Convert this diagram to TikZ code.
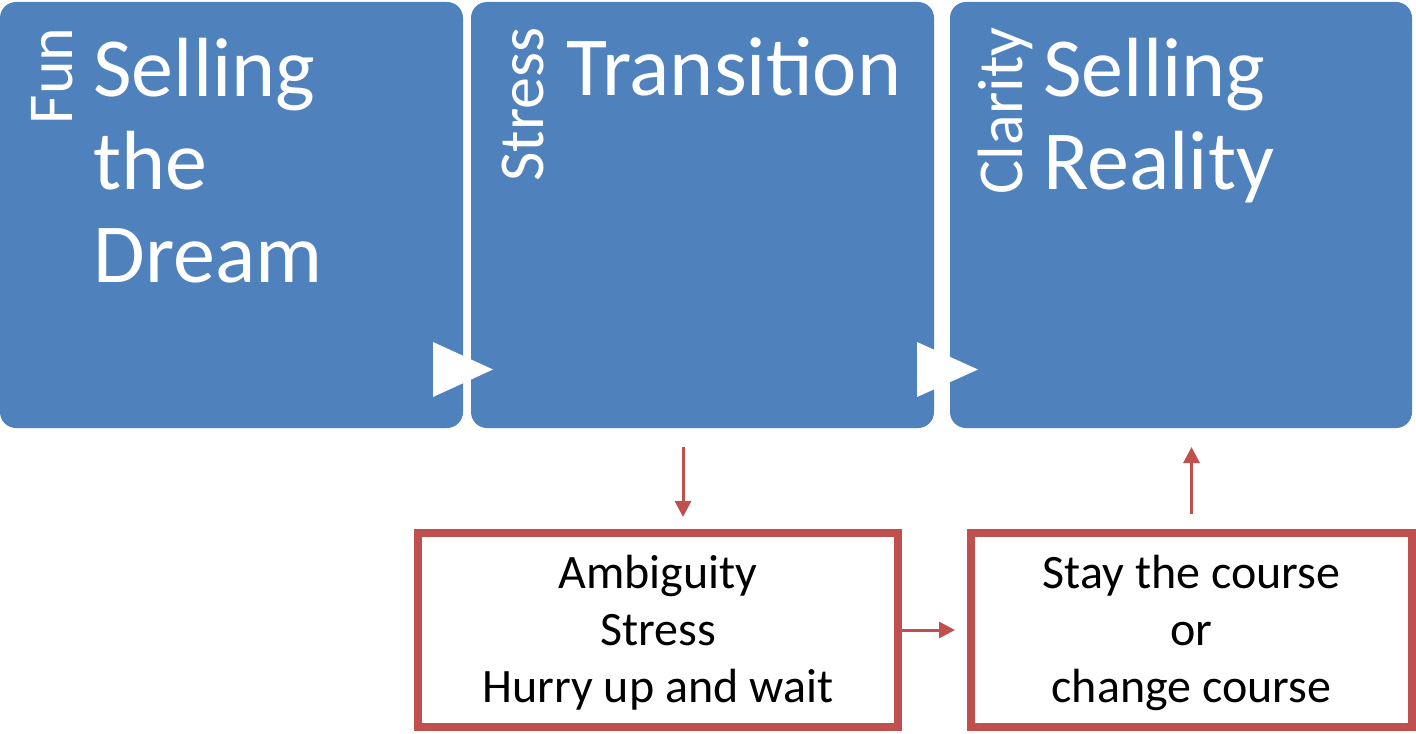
\documentclass[tikz,border=0pt]{standalone}
\usepackage{fontspec}
\setmainfont{Carlito}
\usetikzlibrary{arrows.meta,calc}
\definecolor{accblue}{HTML}{4F81BD}
\definecolor{accred}{HTML}{C0504D}
\begin{document}
\begin{tikzpicture}[x=0.5pt,y=-0.5pt,
  bluebox/.style={fill=accblue, rounded corners=8pt, inner sep=0pt, outer sep=0pt, minimum height=213pt},
  redbox/.style={draw=accred, line width=4pt, inner sep=0pt, outer sep=0pt, minimum height=97pt},
  bigtext/.style={text=white, font=\fontsize{42}{46.5}\selectfont, align=left, inner sep=0pt, anchor=base west},
  sidetext/.style={text=white, font=\fontsize{32}{38}\selectfont, rotate=90, anchor=base east, inner sep=0pt},
  smalltext/.style={text=black, font=\fontsize{24}{28.5}\selectfont, align=center, inner sep=0pt},
  chevron/.style={fill=white},
  redarrow/.style={draw=accred, line width=1.5pt, -{Triangle[length=8pt,width=8pt]}}]
\useasboundingbox (0,0) rectangle (1416,733);

% blue process boxes
\node[bluebox, minimum width=231.5pt] (b1) at (231.5,215) {};
\node[bluebox, minimum width=231.5pt] (b2) at (702.5,215) {};
\node[bluebox, minimum width=231pt] (b3) at (1181,215) {};

% white chevrons
\fill[chevron] (433,342) -- (493,369.5) -- (433,397) -- cycle;
\fill[chevron] (917,342) -- (978,369.5) -- (917,397) -- cycle;

% side labels
\node[sidetext] (s1) at (72,27) {Fun};
\node[sidetext] (s2) at (543,27) {Stress};
\node[sidetext] (s3) at (1022,27) {Clarity};

% main titles (base anchor = last line's baseline)
\node[bigtext] (t1) at (93,282) {Selling\\the\\Dream};
\node[bigtext] (t2) at (566,96) {Transition};
\node[bigtext] (t3) at (1043,189) {Selling\\Reality};

% red boxes
\node[redbox, minimum width=240pt] (a) at (658,630) {};
\node[redbox, minimum width=220.5pt] (b) at (1191.5,630) {};
\node[smalltext] (ta) at ($(a.center)+(0,3)$) {Ambiguity\\Stress\\Hurry up and wait};
\node[smalltext] (tb) at ($(b.center)+(0,3)$) {Stay the course\\or\\change course};

% connectors
\coordinate (dtop) at ($(b2.south)+(-19.5,0)$);
\coordinate (dbot) at (dtop |- a.north);
\draw[redarrow, shorten <=9.5pt, shorten >=8pt] (dtop) -- (dbot);
\draw[redarrow, shorten <=2pt, shorten >=8pt] (a.east) -- (b.west);
\draw[redarrow, shorten <=9.5pt, shorten >=9.5pt] (b.north) -- (b.north |- b3.south);
\end{tikzpicture}
\end{document}
